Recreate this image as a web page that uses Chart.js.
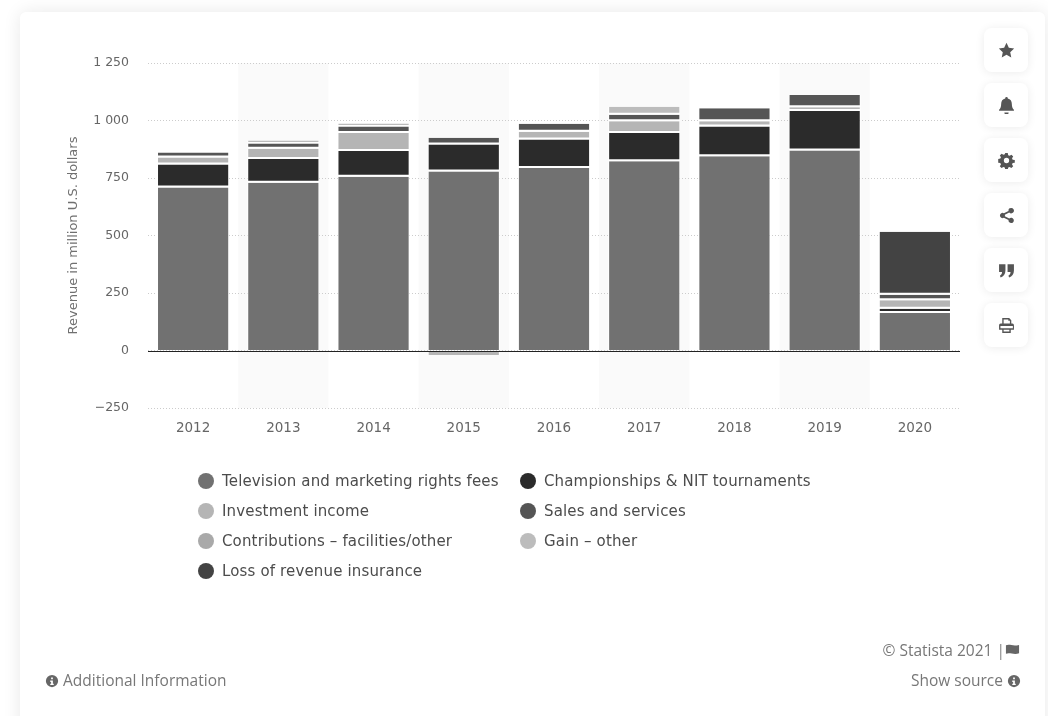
<!DOCTYPE html>
<html>
<head>
<meta charset="utf-8">
<title>Revenue in million U.S. dollars</title>
<script src="https://cdn.jsdelivr.net/npm/chart.js@4"></script>
<style>
  html, body { margin: 0; padding: 0; background: #fff; }
  body { position: relative; width: 1048px; height: 716px; overflow: hidden; font-family: "Open Sans", sans-serif; }
  .card { position: absolute; left: 20px; top: 12px; width: 1025px; height: 740px; background: #fff; border-radius: 6px; box-shadow: 0 0 18px rgba(0,0,0,0.09); }
  canvas { position: absolute; left: 0; top: 0; }
  .legend-item { position: absolute; font-family: "DejaVu Sans", sans-serif; font-size: 15px; letter-spacing: 0.15px; color: #4c4c4c; line-height: 20px; white-space: nowrap; }
  .legend-item i { position: absolute; left: -24px; top: 2px; width: 16px; height: 16px; border-radius: 50%; }
  .btn { position: absolute; left: 984px; width: 44px; height: 44px; background: #fff; border-radius: 8px; box-shadow: 0 1px 10px rgba(0,0,0,0.08); }
  .btn svg { position: absolute; left: 13.500px; top: 13.500px; width: 17px; height: 17px; fill: #555; }
  .foot { position: absolute; font-size: 15.500px; color: #777; white-space: nowrap; }
  .foot svg { width: 14px; height: 14px; fill: #666; vertical-align: -2px; }
</style>
</head>
<body>
<div class="card"></div>
<canvas id="revenue_chart" width="1048" height="716"></canvas>
<div id="legend"></div>
<div id="buttons"></div>
<div class="foot" style="right:28px;top:639px">© Statista 2021 <span style="color:#888">|</span><svg viewBox="0 0 16 16" style="width:15px;height:15px"><path d="M1 2.500c4-2 7 1.500 14 -.5v9c-6 2-10-1.500-14 .5z"/></svg></div>
<div class="foot" style="left:45px;top:669px"><svg viewBox="0 0 16 16"><path d="M8 1a7 7 0 1 0 0 14A7 7 0 0 0 8 1zm-1 3h2v2H7zm-1 3.500h3V11h1v1.500H6V11h1V9H6z" fill-rule="evenodd"/></svg> Additional Information</div>
<div class="foot" style="right:27px;top:669px">Show source <svg viewBox="0 0 16 16"><path d="M8 1a7 7 0 1 0 0 14A7 7 0 0 0 8 1zm-1 3h2v2H7zm-1 3.500h3V11h1v1.500H6V11h1V9H6z" fill-rule="evenodd"/></svg></div>

<script>
// categories and stacked revenue series, in million U.S. dollars
const years = ["2012", "2013", "2014", "2015", "2016", "2017", "2018", "2019", "2020"];
const tv_rights = [709, 729, 755, 778, 794, 823, 845, 870, 163];
const championships = [100, 104, 112, 118, 123, 123, 129, 171, 18];
const investment = [30, 44, 79, -20, 34, 51, 23, 17, 38];
const sales = [22, 23, 28, 29, 35, 28, 56, 53, 23];
const contributions = [0, 0, 0, 0, 0, 0, 0, 0, 0];
const gain_other = [0, 13, 13, 0, 0, 35, 0, 0, 0];
const loss_insurance = [0, 0, 0, 0, 0, 0, 0, 0, 274];

const y_ticks = [-250, 0, 250, 500, 750, 1000, 1250];
const series_names = [
  "Television and marketing rights fees",
  "Championships & NIT tournaments",
  "Investment income",
  "Sales and services",
  "Contributions \u2013 facilities/other",
  "Gain \u2013 other",
  "Loss of revenue insurance",
];
const series_values = [tv_rights, championships, investment, sales, contributions, gain_other, loss_insurance];
const series_colors = ["#717171", "#2b2b2b", "#b5b5b5", "#555555", "#a9a9a9", "#bcbcbc", "#434343"];

// grey bands behind every other year, plus the solid zero line
const chartDecor = {
  id: "chartDecor",
  beforeDraw(chart) {
    const { ctx, chartArea, scales } = chart;
    const step = scales.x.getPixelForValue(1) - scales.x.getPixelForValue(0);
    ctx.save();
    ctx.fillStyle = "#fafafa";
    years.forEach((year, i) => {
      if (i % 2 === 0) return;
      const x = scales.x.getPixelForValue(i);
      ctx.fillRect(x - step / 2, chartArea.top, step, chartArea.bottom - chartArea.top);
    });
    ctx.restore();
  },
  afterDatasetsDraw(chart) {
    const { ctx, chartArea, scales } = chart;
    const y = Math.round(scales.y.getPixelForValue(0)) + 0.5;
    ctx.save();
    ctx.strokeStyle = "#222";
    ctx.lineWidth = 1;
    ctx.beginPath();
    ctx.moveTo(chartArea.left, y);
    ctx.lineTo(chartArea.right, y);
    ctx.stroke();
    ctx.restore();
  },
};

new Chart(document.getElementById("revenue_chart").getContext("2d"), {
  type: "bar",
  plugins: [chartDecor],
  data: {
    labels: years,
    datasets: series_names.map((name, i) => ({
      label: name,
      data: series_values[i],
      backgroundColor: series_colors[i],
      borderColor: "#fff",
      // white separator under each upper segment; the first one sits right on the zero line
      borderWidth: (c) => ({ top: 0, left: 1, right: 1, bottom: c.datasetIndex === 0 || c.raw < 0 ? 0 : 2 }),
      borderSkipped: false,
      barPercentage: 0.8,
      categoryPercentage: 1,
    })),
  },
  options: {
    responsive: false,
    animation: false,
    layout: { padding: { left: 60, right: 88, top: 63, bottom: 278 } },
    plugins: { legend: { display: false }, tooltip: { enabled: false } },
    scales: {
      x: {
        stacked: true,
        afterFit(scale) { scale.height = 30; },
        grid: { display: false },
        border: { display: false },
        ticks: { color: "#666", padding: 4, maxRotation: 0, font: { family: "DejaVu Sans", size: 13.5 } },
      },
      y: {
        stacked: true,
        min: -250,
        max: 1250,
        afterFit(scale) { scale.width = 88; },
        afterBuildTicks(scale) { scale.ticks = y_ticks.map((value) => ({ value })); },
        title: {
          display: true,
          text: "Revenue in million U.S. dollars",
          color: "#707070",
          padding: { top: 6, bottom: 0 },
          font: { family: "DejaVu Sans", size: 13 },
        },
        grid: { color: "#cccccc", lineWidth: 1, drawTicks: false },
        border: { display: false, dash: [1, 2] },
        ticks: {
          color: "#666",
          padding: 19,
          font: { family: "DejaVu Sans", size: 12.5 },
          callback(value) {
            if (value < 0) return "\u2212" + Math.abs(value);
            return value >= 1000 ? Math.floor(value / 1000) + " " + String(value % 1000).padStart(3, "0") : String(value);
          },
        },
      },
    },
  },
});

// legend laid out in two columns, the last entry alone on its row
const legend_slots = [[222, 471], [544, 471], [222, 501], [544, 501], [222, 531], [544, 531], [222, 561]];
const legend_box = document.getElementById("legend");
series_names.forEach((name, i) => {
  const item = document.createElement("div");
  item.className = "legend-item";
  item.style.left = legend_slots[i][0] + "px";
  item.style.top = legend_slots[i][1] + "px";
  item.innerHTML = `<i style="background:${series_colors[i]}"></i>`;
  item.appendChild(document.createTextNode(name));
  legend_box.appendChild(item);
});

// toolbar glyphs on the right
const button_icons = [
  "M8 .8l2.200 4.700 5 .6-3.700 3.500 1 5L8 12.100l-4.500 2.500 1-5L.8 6.100l5-.6z",
  "M8 0a1.200 1.200 0 0 1 1.200 1.300c2.500.5 3.800 2.500 3.800 5 0 3.500 1 4.700 2 5.700v1H1v-1c1-1 2-2.200 2-5.700 0-2.500 1.300-4.500 3.800-5A1.200 1.200 0 0 1 8 0zM6 14.500h4a2 2 0 0 1-4 0z",
  "M6.800 1h2.400l.4 2 1.300.6 1.800-1.100 1.600 1.700-1.100 1.700.6 1.300 2 .4v2.400l-2 .4-.6 1.300 1.100 1.800-1.700 1.600-1.700-1.100-1.300.6-.4 2H6.800l-.4-2-1.300-.6-1.800 1.100-1.600-1.700 1.100-1.700-.6-1.300-2-.4V6.600l2-.4.6-1.300L1.700 3.200l1.700-1.600 1.700 1.100 1.300-.6zM8 5.500a2.500 2.500 0 1 0 0 5 2.500 2.500 0 0 0 0-5z",
  "M12.500 1a2.500 2.500 0 1 1-1.900 4.100L6.400 7.200a2.500 2.500 0 0 1 0 1.600l4.200 2.100a2.500 2.500 0 1 1-.7 1.400L5.500 10.200a2.500 2.500 0 1 1 0-4.400l4.400-2.100A2.500 2.500 0 0 1 12.500 1z",
  "M1 2h6v6c0 3.500-1.800 5.500-4.500 6.500L1.800 13C3 12.300 3.800 11 3.800 9.500H1zM9 2h6v6c0 3.500-1.800 5.500-4.500 6.500L9.800 13c1.200-.7 2-2 2-3.500H9z",
  "M4 1h6.500L12.500 3v3.200h1A1.500 1.500 0 0 1 15 7.700V12h-3v3H4v-3H1V7.700a1.500 1.500 0 0 1 1.500-1.500h1.500zm1.300 1.300v3.900h5.900V3.600H9.700V2.300zM2.300 8.500v2.200H14V8.500zM5.300 12v1.700h5.400V12z",
];
const button_tops = [28, 83, 138, 193, 248, 303];
const button_box = document.getElementById("buttons");
button_icons.forEach((path, i) => {
  const btn = document.createElement("div");
  btn.className = "btn";
  btn.style.top = button_tops[i] + "px";
  btn.innerHTML = `<svg viewBox="0 0 16 16"><path fill-rule="evenodd" d="${path}"/></svg>`;
  button_box.appendChild(btn);
});
</script>
</body>
</html>
